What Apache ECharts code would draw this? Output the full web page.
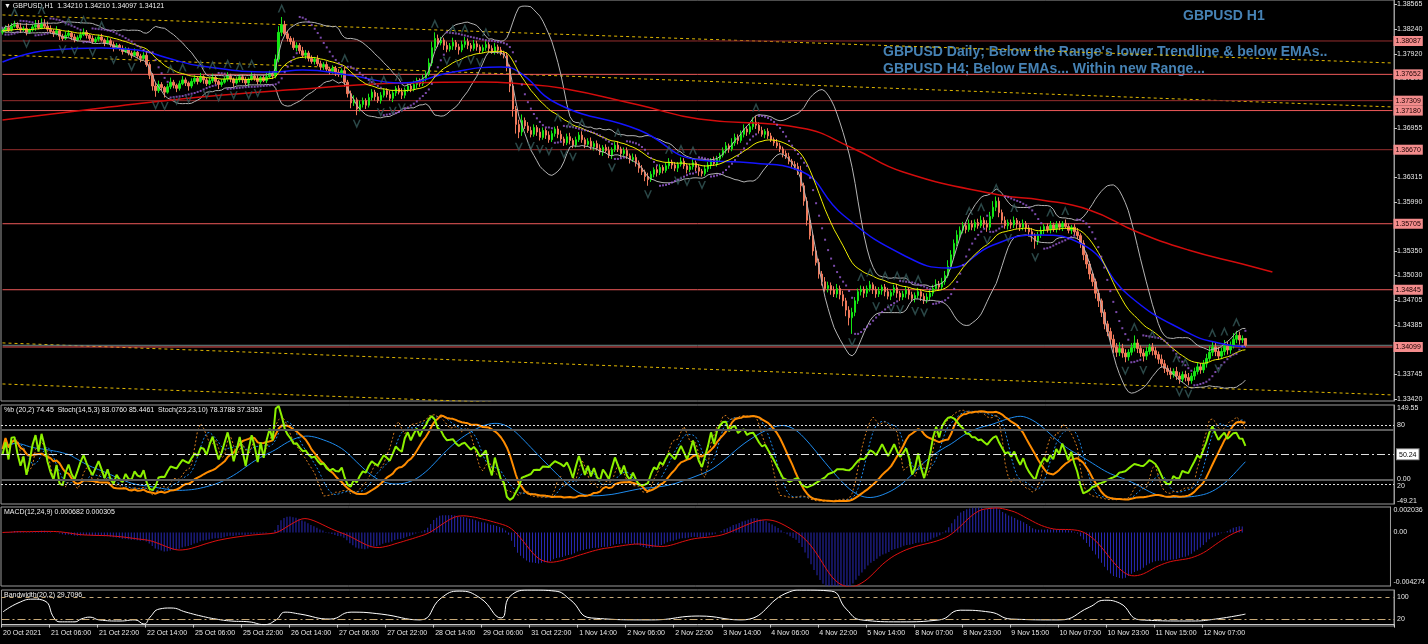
<!DOCTYPE html>
<html><head><meta charset="utf-8">
<script src="https://cdn.jsdelivr.net/npm/echarts@6/dist/echarts.min.js"></script>
<style>html,body{margin:0;padding:0;background:#000;}#c{width:1428px;height:644px;}</style>
</head><body><div id="c"></div>
<script>
// ---------------- DATA ----------------
const firstOpen = 1.3820;
const closes = [
1.3822,1.3826,1.3823,1.3828,1.3830,1.3826,1.3823,1.3825,1.3820,1.3823,1.3827,1.3830,1.3826,1.3831,1.3828,1.3824,
1.3821,1.3818,1.3822,1.3815,1.3812,1.3816,1.3819,1.3814,1.3810,1.3813,1.3817,1.3820,1.3816,1.3812,1.3808,1.3811,
1.3814,1.3810,1.3806,1.3809,1.3804,1.3800,1.3803,1.3799,1.3795,1.3798,1.3793,1.3790,1.3794,1.3789,1.3786,1.3790,
1.3778,1.3764,1.3750,1.3744,1.3752,1.3748,1.3742,1.3749,1.3755,1.3751,1.3747,1.3753,1.3758,1.3754,1.3750,1.3756,
1.3760,1.3756,1.3762,1.3758,1.3753,1.3757,1.3761,1.3756,1.3752,1.3755,1.3759,1.3763,1.3759,1.3754,1.3758,1.3762,
1.3758,1.3754,1.3759,1.3763,1.3760,1.3756,1.3761,1.3757,1.3762,1.3766,1.3763,1.3785,1.3820,1.3830,1.3818,1.3812,
1.3808,1.3800,1.3803,1.3796,1.3790,1.3793,1.3786,1.3782,1.3785,1.3779,1.3775,1.3778,1.3772,1.3769,1.3773,1.3768,
1.3765,1.3770,1.3755,1.3740,1.3728,1.3732,1.3720,1.3726,1.3731,1.3725,1.3735,1.3742,1.3736,1.3731,1.3738,1.3744,
1.3739,1.3734,1.3741,1.3747,1.3742,1.3738,1.3745,1.3750,1.3746,1.3752,1.3757,1.3753,1.3760,1.3766,1.3780,1.3800,
1.3812,1.3806,1.3810,1.3803,1.3798,1.3802,1.3807,1.3801,1.3797,1.3804,1.3808,1.3803,1.3799,1.3805,1.3801,1.3796,
1.3800,1.3804,1.3799,1.3795,1.3801,1.3797,1.3793,1.3790,1.3775,1.3750,1.3720,1.3700,1.3690,1.3705,1.3698,1.3692,
1.3687,1.3696,1.3690,1.3683,1.3692,1.3686,1.3680,1.3688,1.3694,1.3687,1.3681,1.3676,1.3684,1.3679,1.3673,1.3680,
1.3686,1.3680,1.3674,1.3678,1.3671,1.3675,1.3669,1.3664,1.3670,1.3666,1.3660,1.3667,1.3673,1.3668,1.3662,1.3666,
1.3659,1.3654,1.3657,1.3650,1.3643,1.3638,1.3632,1.3628,1.3635,1.3641,1.3637,1.3644,1.3640,1.3646,1.3651,1.3647,
1.3643,1.3648,1.3652,1.3646,1.3641,1.3645,1.3650,1.3644,1.3639,1.3636,1.3642,1.3647,1.3653,1.3649,1.3655,1.3660,
1.3666,1.3672,1.3668,1.3676,1.3683,1.3679,1.3687,1.3694,1.3690,1.3697,1.3703,1.3699,1.3692,1.3687,1.3691,1.3685,
1.3680,1.3676,1.3672,1.3668,1.3662,1.3658,1.3652,1.3648,1.3645,1.3640,1.3620,1.3600,1.3575,1.3555,1.3535,1.3520,
1.3505,1.3495,1.3486,1.3490,1.3484,1.3479,1.3486,1.3478,1.3470,1.3458,1.3448,1.3455,1.3470,1.3482,1.3485,1.3480,
1.3486,1.3491,1.3485,1.3479,1.3483,1.3488,1.3482,1.3476,1.3481,1.3487,1.3480,1.3475,1.3479,1.3484,1.3478,1.3473,
1.3477,1.3482,1.3476,1.3471,1.3475,1.3480,1.3486,1.3492,1.3488,1.3495,1.3503,1.3515,1.3530,1.3545,1.3556,1.3562,
1.3568,1.3563,1.3570,1.3566,1.3572,1.3568,1.3575,1.3570,1.3566,1.3580,1.3592,1.3600,1.3585,1.3575,1.3568,1.3572,
1.3569,1.3575,1.3570,1.3566,1.3571,1.3565,1.3560,1.3555,1.3548,1.3556,1.3562,1.3567,1.3563,1.3569,1.3564,1.3570,
1.3566,1.3571,1.3567,1.3562,1.3566,1.3560,1.3555,1.3545,1.3530,1.3518,1.3505,1.3495,1.3480,1.3470,1.3455,1.3440,
1.3430,1.3420,1.3410,1.3403,1.3408,1.3402,1.3397,1.3403,1.3409,1.3415,1.3408,1.3402,1.3398,1.3404,1.3410,1.3405,
1.3400,1.3394,1.3388,1.3382,1.3378,1.3374,1.3378,1.3372,1.3368,1.3374,1.3370,1.3366,1.3372,1.3378,1.3384,1.3380,
1.3388,1.3395,1.3403,1.3410,1.3404,1.3398,1.3404,1.3411,1.3406,1.3412,1.3420,1.3425,1.3419,1.3421,1.34121
];
// upper and lower wick lengths of each candle, in pips (0.0001)
const upperWickPips = [
4,3,5,4,5,3,6,3,7,2,3,6,6,7,6,6, 5,3,6,2,3,5,4,2,4,3,4,5,3,2,4,3, 3,4,2,5,3,4,3,2,4,3,2,3,5,2,3,4,
4,3,3,4,5,3,2,4,6,3,2,4,5,3,2,4, 4,3,5,2,3,4,5,3,2,4,3,5,3,2,4,3, 3,4,2,5,3,4,2,3,5,4,3,6,8,10,5,4,
3,5,4,3,5,4,3,4,3,5,4,3,4,3,4,3, 4,3,5,3,4,6,3,5,4,3,5,4,3,5,4,3, 3,5,4,3,4,5,3,4,3,5,4,3,5,4,6,8,
8,5,4,3,5,4,6,3,4,5,6,4,3,5,4,3, 4,5,3,4,5,3,4,3,4,3,5,4,6,8,4,5, 5,4,3,5,4,3,5,4,3,4,5,3,4,5,3,4,
4,5,3,4,5,3,4,5,3,4,5,3,4,5,3,4, 4,3,5,4,3,4,3,5,4,3,5,4,3,4,5,3, 4,3,5,4,3,4,5,3,4,3,5,4,3,5,4,3,
4,5,3,6,5,4,5,6,4,5,6,8,4,5,3,4, 4,3,5,4,3,4,5,3,4,5,6,4,5,4,3,5, 5,4,6,5,4,5,6,4,5,4,5,6,5,4,5,4,
4,5,3,4,5,3,4,5,3,4,5,3,4,5,3,4, 4,5,3,4,5,4,5,6,4,5,6,8,6,5,6,5, 5,4,6,5,4,5,6,4,5,6,8,6,5,4,5,4,
4,5,3,4,5,3,4,5,3,4,5,3,4,5,3,4, 4,3,5,4,3,4,5,3,4,3,4,3,4,5,3,4, 4,5,6,5,8,6,5,4,6,10,5,4,5,6,4,5,
5,4,6,5,4,5,4,6,5,4,5,6,4,5,6,5, 5,6,8,7,5,6,5,8,6,5,8,6,5,4,0
];
const lowerWickPips = [
3,2,3,2,2,3,4,2,4,2,2,5,2,2,3,3, 3,4,2,5,3,2,3,4,3,2,3,2,4,3,3,2, 3,2,4,2,3,5,2,3,4,2,3,4,2,3,5,2,
3,5,6,8,3,4,7,2,3,4,5,3,2,4,6,3, 3,4,2,5,3,2,3,4,6,3,2,3,4,5,2,3, 4,3,5,2,3,4,3,2,3,2,4,3,4,5,3,4,
4,3,5,4,3,5,4,3,4,3,5,4,3,4,3,5, 3,4,6,5,7,4,8,3,4,5,3,4,5,3,4,3, 4,3,5,4,3,5,4,3,4,3,5,4,3,4,3,4,
4,5,3,6,4,3,5,4,6,3,4,5,4,3,5,4, 3,4,5,3,4,5,3,4,6,8,10,12,8,5,4,3, 4,3,5,4,3,5,4,3,4,5,3,4,3,5,4,3,
3,4,5,3,4,5,3,4,5,3,4,5,3,4,5,3, 4,5,3,5,6,4,6,8,3,4,5,3,4,3,4,5, 4,5,3,4,5,3,4,5,6,4,3,4,5,3,4,3,
3,4,5,3,4,5,3,4,5,3,4,5,4,3,5,4, 3,4,3,4,5,3,4,5,4,6,8,6,7,5,6,4, 6,5,4,5,6,4,5,6,7,8,10,21,5,4,5,6,
5,4,6,5,4,5,6,4,5,4,6,5,4,5,6,4, 5,4,6,5,4,5,4,3,4,3,4,3,4,5,4,5, 4,5,3,4,5,4,3,5,6,4,3,5,6,5,4,5,
5,4,6,5,4,5,6,8,10,5,4,5,4,5,4,5, 4,5,3,4,5,4,5,6,7,6,7,6,7,8,6,7, 6,7,8,6,5,6,7,5,4,5,6,5,7,5,4,6,
5,6,5,6,5,6,4,5,6,4,5,6,4,5,4,5, 4,5,4,5,6,5,4,5,6,5,4,5,6,4,2.4
];
const timeLabels = ['20 Oct 2021','21 Oct 06:00','21 Oct 22:00','22 Oct 14:00','25 Oct 06:00','25 Oct 22:00','26 Oct 14:00','27 Oct 06:00','27 Oct 22:00','28 Oct 14:00','29 Oct 06:00','31 Oct 22:00','1 Nov 14:00','2 Nov 06:00','2 Nov 22:00','3 Nov 14:00','4 Nov 06:00','4 Nov 22:00','5 Nov 14:00','8 Nov 07:00','8 Nov 23:00','9 Nov 15:00','10 Nov 07:00','10 Nov 23:00','11 Nov 15:00','12 Nov 07:00'];
const priceTicks = [1.38565,1.38240,1.37920,1.37600,1.37275,1.36955,1.36635,1.36315,1.35990,1.35670,1.35350,1.35030,1.34705,1.34385,1.34065,1.33745,1.33420];
const levels = [1.38087,1.37652,1.37309,1.37180,1.36670,1.35705,1.34845,1.34099];
const levelColors = ['#962e2e','#f05a5a','#962e2e','#f05a5a','#962e2e','#f05a5a','#f05a5a','#f05a5a'];
const bidPrice = 1.34121;
const trendTop = [[0,1.38426],[463,1.37800]];
const trendMid = [[0,1.37904],[463,1.37227]];
const trendLow = [[0,1.34152],[463,1.33474]];
const trendLow2 = [[0,1.33617],[463,1.32940]];
const blueMA = [[0,1.37813],[16,1.37970],[33,1.37996],[45,1.37970],[55,1.37865],[66,1.37761],[90,1.37683],[100,1.37709],[115,1.37644],[133,1.37540],[150,1.37683],[166,1.37748],[172,1.37683],[185,1.37266],[212,1.36927],[232,1.36536],[250,1.36497],[265,1.36406],[280,1.35819],[300,1.35298],[315,1.35129],[330,1.35429],[345,1.35559],[360,1.35429],[375,1.34777],[395,1.34282],[405,1.34152],[414,1.34100]];
const redMA = [[0,1.37057],[33,1.37214],[66,1.37357],[100,1.37461],[133,1.37540],[160,1.37553],[173,1.37526],[186,1.37474],[212,1.37253],[232,1.37070],[266,1.36953],[283,1.36693],[300,1.36380],[332,1.36080],[346,1.36015],[362,1.35885],[378,1.35598],[395,1.35363],[413,1.35181],[423,1.35077]];
const bandwidthPts = [[0,46],[5,78],[10,92],[14,85],[17,24],[19,10],[24,10],[26,20],[29,27],[32,17],[39,13],[44,17],[47,2],[49,27],[52,56],[56,60],[61,45],[66,31],[71,20],[76,13],[82,10],[87,0],[91,17],[94,45],[99,38],[109,20],[116,45],[126,38],[139,17],[146,96],[152,121],[159,96],[166,24],[169,103],[176,125],[184,121],[189,90],[196,24],[216,17],[232,31],[246,17],[262,118],[266,125],[276,121],[281,56],[286,17],[299,10],[312,17],[319,52],[329,45],[336,20],[352,17],[362,63],[367,88],[372,78],[379,17],[396,13],[404,20],[414,38]];
const stochLabels = [80, 50.24, 20];
const pctbLabels = [149.55, 0, -49.21];
const macdLabels = [0.002036, 0, -0.004274];
const bwLabels = [100, 20];

// ---------------- derived series ----------------
const n = closes.length, NCAT = 464, PIP = 0.0001;
const opens = [firstOpen].concat(closes.slice(0, -1));
const highs = closes.map((c, i) => Math.max(c, opens[i]) + upperWickPips[i] * PIP);
const lows = closes.map((c, i) => Math.min(c, opens[i]) - lowerWickPips[i] * PIP);
function ema(a,p){const k=2/(p+1);const o=[];a.forEach((v,i)=>o.push(i?v*k+o[i-1]*(1-k):v));return o;}
function sma(a,p){const o=[];let s=0;for(let i=0;i<a.length;i++){s+=a[i];if(i>=p)s-=a[i-p];o.push(s/Math.min(i+1,p));}return o;}
function sd(a,p,m){return a.map((v,i)=>{const st=Math.max(0,i-p+1);let s=0;for(let j=st;j<=i;j++)s+=(a[j]-m[i])**2;return Math.sqrt(s/(i-st+1));});}
function stoch(K,D,S){const num=[],den=[];for(let i=0;i<n;i++){const st=Math.max(0,i-K+1);let hh=-1e9,ll=1e9;for(let j=st;j<=i;j++){hh=Math.max(hh,highs[j]);ll=Math.min(ll,lows[j]);}num.push(closes[i]-ll);den.push(hh-ll);}
 const m=[];for(let i=0;i<n;i++){const st=Math.max(0,i-S+1);let a=0,b=0;for(let j=st;j<=i;j++){a+=num[j];b+=den[j];}m.push(b?100*a/b:50);}return {m, s:sma(m,D)};}
function psar(step,max){const o=[[0,highs[0]]];let up=false,af=step,ep=lows[0],s=highs[0];
 for(let i=1;i<n;i++){s=s+af*(ep-s);
  if(up){s=Math.min(s,lows[i-1],lows[Math.max(0,i-2)]);if(lows[i]<s){up=false;s=ep;ep=lows[i];af=step;}else if(highs[i]>ep){ep=highs[i];af=Math.min(af+step,max);}}
  else{s=Math.max(s,highs[i-1],highs[Math.max(0,i-2)]);if(highs[i]>s){up=true;s=ep;ep=highs[i];af=step;}else if(lows[i]<ep){ep=lows[i];af=Math.min(af+step,max);}}
  o.push([i,s]);}
 return o;}
const yellow = ema(closes, 21);
const mid = sma(closes, 20), dev = sd(closes, 20, mid);
const bbUp = mid.map((m,i)=>m+2*dev[i]), bbLo = mid.map((m,i)=>m-2*dev[i]);
const pctb = closes.map((c,i)=> (bbUp[i]-bbLo[i])>0 ? (c-bbLo[i])/(bbUp[i]-bbLo[i])*100 : 50);
const st1 = stoch(14,5,3), st2 = stoch(23,23,10);
const e12 = ema(closes,12), e24 = ema(closes,24);
const macd = e12.map((v,i)=>v-e24[i]); const macdSig = sma(macd,9);
const sar = psar(0.02,0.2);
const fUp=[], fDn=[];
for(let i=2;i<n-2;i++){
  if(highs[i]>highs[i-1]&&highs[i]>highs[i-2]&&highs[i]>=highs[i+1]&&highs[i]>=highs[i+2]) fUp.push([i,highs[i]]);
  if(lows[i]<lows[i-1]&&lows[i]<lows[i-2]&&lows[i]<=lows[i+1]&&lows[i]<=lows[i+2]) fDn.push([i,lows[i]]);
}
const candles = closes.map((c,i)=>[opens[i], c, lows[i], highs[i]]);
const cats = Array.from({length:NCAT},(_,i)=>String(i));

// ---------------- chart ----------------
const FONT = "'Liberation Sans', Arial, sans-serif";
const chart = echarts.init(document.getElementById('c'), null, {renderer:'canvas'});
const gridBase = {left:1, width:1393, show:true, borderColor:'#9a9a9a', borderWidth:1, backgroundColor:'#000'};
const xBase = (gi, show) => ({type:'category', data:cats, gridIndex:gi, boundaryGap:true,
  axisLine:{show:show, lineStyle:{color:'#c8c8c8'}},
  axisTick:{show:show, interval:(i)=> i%16===0 && i<=400, length:3, lineStyle:{color:'#c8c8c8'}},
  axisLabel:{show:show, interval:(i)=> i%16===0 && i<=400, align:'left', margin:4, fontSize:7, fontFamily:FONT, color:'#e6e6e6',
    formatter:(v,idx)=> timeLabels[idx/16] || ''},
  splitLine:{show:false}});
const yLab = {fontSize:7, fontFamily:FONT, color:'#e8e8e8', margin:3};
// horizontal price levels as line series, each with its price tag at the right end
const levelSeries = levels.map((v,i)=>({type:'line', xAxisIndex:0, yAxisIndex:0, data:[[0,v],[NCAT-1,v]], symbol:'none', silent:true, z:2,
  lineStyle:{color:levelColors[i], width:1},
  endLabel:{show:true, distance:1, formatter:v.toFixed(5), backgroundColor:'#f38c8c', color:'#1a0000', fontSize:7, fontFamily:FONT, padding:[2,2,1,2]}}));
const bidSeries = {type:'line', xAxisIndex:0, yAxisIndex:0, data:[[0,bidPrice],[NCAT-1,bidPrice]], symbol:'none', silent:true, z:2,
  lineStyle:{color:'#6f8a8a', width:1}};
const dotted = (data, z) => ({type:'line', xAxisIndex:0, yAxisIndex:0, data, symbol:'none', silent:true, z:z||2,
  lineStyle:{color:'#e1b800', width:1, type:[3,3]}});
const chevUp = 'path://M0,10 L5,0 L10,10 L8,10 L5,4 L2,10 Z';
const chevDn = 'path://M0,0 L5,10 L10,0 L8,0 L5,6 L2,0 Z';

const option = {
  backgroundColor:'#000', animation:false,
  grid:[
    Object.assign({top:0, height:401}, gridBase),
    Object.assign({top:405, height:99}, gridBase),
    Object.assign({top:507, height:79}, gridBase),
    Object.assign({top:590, height:36}, gridBase)
  ],
  xAxis:[xBase(0,false), xBase(1,false), xBase(2,false), xBase(3,true)],
  yAxis:[
    {type:'value', gridIndex:0, position:'right', min:1.33395, max:1.38621, splitLine:{show:false},
      axisLine:{show:true, lineStyle:{color:'#9a9a9a'}}, axisTick:{show:true, length:3, customValues:priceTicks, lineStyle:{color:'#c8c8c8'}},
      axisLabel:Object.assign({customValues:priceTicks, formatter:v=>v.toFixed(5)}, yLab)},
    {type:'value', gridIndex:1, position:'right', min:-49.21, max:149.55, splitLine:{show:false},
      axisLine:{show:true, lineStyle:{color:'#9a9a9a'}}, axisTick:{show:false},
      axisLabel:Object.assign({customValues:pctbLabels, formatter:v=> v===149.55?'{t|149.55}': v===0?'0.00':'{b|-49.21}',
        rich:{t:{padding:[7,0,0,0], fontSize:7, fontFamily:FONT, color:'#e8e8e8'}, b:{padding:[0,0,6,0], fontSize:7, fontFamily:FONT, color:'#e8e8e8'}}}, yLab)},
    {type:'value', gridIndex:1, position:'right', min:0, max:100, splitLine:{show:false}, axisLine:{show:false}, axisTick:{show:false},
      axisLabel:Object.assign({customValues:stochLabels, formatter:v=> v===50.24?'{box|50.24}': (v===20?'{d|20}':String(v)),
        rich:{box:{backgroundColor:'#fff', color:'#000', borderColor:'#888', borderWidth:1, padding:[2,2,1,2], fontSize:7, fontFamily:FONT},
              d:{padding:[4,0,0,0], fontSize:7, fontFamily:FONT, color:'#e8e8e8'}}}, yLab)},
    {type:'value', gridIndex:2, position:'right', min:-0.004274, max:0.002036, splitLine:{show:false},
      axisLine:{show:true, lineStyle:{color:'#9a9a9a'}}, axisTick:{show:false},
      axisLabel:Object.assign({customValues:macdLabels, formatter:v=> v===0?'0.00': (v>0?'{t|0.002036}':'{b|-0.004274}'),
        rich:{t:{padding:[7,0,0,0], fontSize:7, fontFamily:FONT, color:'#e8e8e8'}, b:{padding:[0,0,8,0], fontSize:7, fontFamily:FONT, color:'#e8e8e8'}}}, yLab)},
    {type:'value', gridIndex:3, position:'right', min:-5, max:125, splitLine:{show:false},
      axisLine:{show:true, lineStyle:{color:'#9a9a9a'}}, axisTick:{show:false},
      axisLabel:Object.assign({customValues:bwLabels}, yLab)}
  ],
  series:[
    dotted(trendTop), dotted(trendMid), dotted(trendLow), dotted(trendLow2),
    bidSeries
  ].concat(levelSeries).concat([
    {type:'candlestick', name:'GBPUSD', xAxisIndex:0, yAxisIndex:0, data:candles, barWidth:2, z:3,
      itemStyle:{color:'#14e614', color0:'#f07a5c', borderColor:'#14e614', borderColor0:'#f07a5c', borderWidth:1}},
    {type:'line', xAxisIndex:0, yAxisIndex:0, data:bbUp, symbol:'none', lineStyle:{color:'#b4b4b4', width:1}, z:4},
    {type:'line', xAxisIndex:0, yAxisIndex:0, data:bbLo, symbol:'none', lineStyle:{color:'#b4b4b4', width:1}, z:4},
    {type:'line', xAxisIndex:0, yAxisIndex:0, data:redMA, smooth:true, symbol:'none', lineStyle:{color:'#d40c0c', width:1.5}, z:4},
    {type:'line', xAxisIndex:0, yAxisIndex:0, data:blueMA, smooth:true, symbol:'none', lineStyle:{color:'#1414ff', width:1.5}, z:4},
    {type:'line', xAxisIndex:0, yAxisIndex:0, data:yellow, symbol:'none', lineStyle:{color:'#f0f000', width:1}, z:4},
    {type:'scatter', xAxisIndex:0, yAxisIndex:0, data:sar, symbol:'rect', symbolSize:2, itemStyle:{color:'#9a5cd6'}, z:5},
    {type:'scatter', xAxisIndex:0, yAxisIndex:0, data:fUp, symbol:chevUp, symbolSize:[8,9], symbolOffset:[0,-9], itemStyle:{color:'#365a5a'}, z:5},
    {type:'scatter', xAxisIndex:0, yAxisIndex:0, data:fDn, symbol:chevDn, symbolSize:[8,9], symbolOffset:[0,9], itemStyle:{color:'#365a5a'}, z:5},
    // stochastic panel
    {type:'line', xAxisIndex:1, yAxisIndex:2, data:[], symbol:'none',
      markLine:{symbol:'none', silent:true, label:{show:false}, data:[
        {yAxis:80, lineStyle:{color:'#e0e0e0', width:1, type:[2,2]}},
        {yAxis:20, lineStyle:{color:'#e0e0e0', width:1, type:[2,2]}},
        {yAxis:50, lineStyle:{color:'#e0e0e0', width:1, type:[8,3,2,3]}}]}},
    {type:'line', xAxisIndex:1, yAxisIndex:1, data:[], symbol:'none',
      markLine:{symbol:'none', silent:true, label:{show:false}, data:[
        {yAxis:100, lineStyle:{color:'#5c5c5c', width:2, type:'solid'}},
        {yAxis:0, lineStyle:{color:'#5c5c5c', width:2, type:'solid'}}]}},
    {type:'line', xAxisIndex:1, yAxisIndex:2, data:st2.s, symbol:'none', lineStyle:{color:'#1e8cf0', width:1}},
    {type:'line', xAxisIndex:1, yAxisIndex:2, data:st1.s, symbol:'none', lineStyle:{color:'#1e8cf0', width:1, type:[2,2]}},
    {type:'line', xAxisIndex:1, yAxisIndex:2, data:st1.m, symbol:'none', lineStyle:{color:'#d27a1e', width:1, type:[2,2]}},
    {type:'line', xAxisIndex:1, yAxisIndex:2, data:st2.m, symbol:'none', lineStyle:{color:'#ff8c00', width:2}},
    {type:'line', xAxisIndex:1, yAxisIndex:1, data:pctb, symbol:'none', lineStyle:{color:'#8cf000', width:2}},
    // MACD
    {type:'bar', xAxisIndex:2, yAxisIndex:3, data:macd, barWidth:1, itemStyle:{color:'#2828b4'}},
    {type:'line', xAxisIndex:2, yAxisIndex:3, data:macdSig, symbol:'none', lineStyle:{color:'#e01010', width:1}},
    // Bandwidth
    {type:'line', xAxisIndex:3, yAxisIndex:4, data:bandwidthPts, smooth:true, symbol:'none', lineStyle:{color:'#ffffff', width:1},
      markLine:{symbol:'none', silent:true, label:{show:false}, data:[
        {yAxis:100, lineStyle:{color:'#c8aa78', width:1, type:[4,4]}},
        {yAxis:20, lineStyle:{color:'#c8aa78', width:1, type:[8,3,2,3]}}]}}
  ]),
  graphic:[
    {type:'text', left:4, top:3, style:{text:'\u25BC GBPUSD,H1  1.34210 1.34210 1.34097 1.34121', fill:'#f0f0f0', font:'7px '+FONT}},
    {type:'text', left:1183, top:9, style:{text:'GBPUSD H1', fill:'#4682b4', font:'bold 14px '+FONT}},
    {type:'text', left:883, top:45, style:{text:"GBPUSD Daily; Below the Range's lower Trendline & below EMAs..", fill:'#4682b4', font:'bold 14px '+FONT}},
    {type:'text', left:883, top:62, style:{text:'GBPUSD H4; Below EMAs... Within new Range...', fill:'#4682b4', font:'bold 14px '+FONT}},
    {type:'text', left:4, top:407, style:{text:'%b (20,2) 74.45  Stoch(14,5,3) 83.0760 85.4461  Stoch(23,23,10) 78.3788 37.3353', fill:'#f0f0f0', font:'7px '+FONT}},
    {type:'text', left:4, top:509, style:{text:'MACD(12,24,9) 0.000682 0.000305', fill:'#f0f0f0', font:'7px '+FONT}},
    {type:'text', left:4, top:592, style:{text:'Bandwidth(20,2) 29.7096', fill:'#f0f0f0', font:'7px '+FONT}}
  ]
};
chart.setOption(option);
</script></body></html>
